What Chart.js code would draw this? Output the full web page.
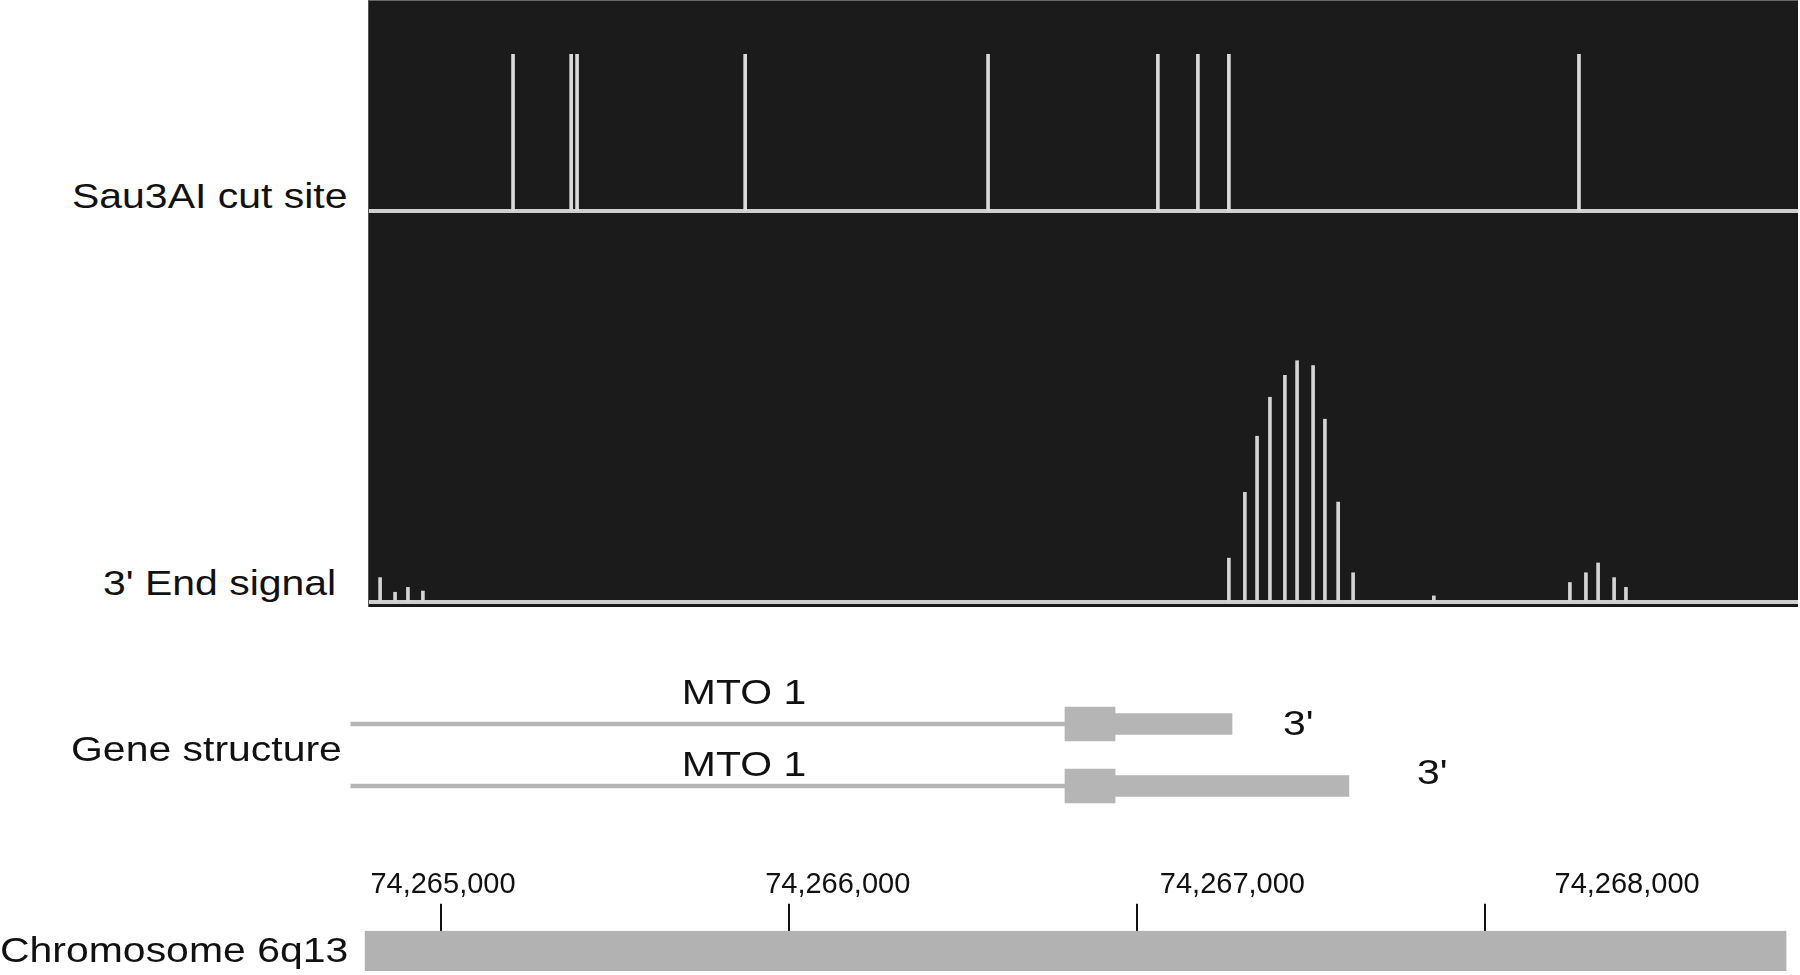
<!DOCTYPE html>
<html>
<head>
<meta charset="utf-8">
<script src="https://cdn.jsdelivr.net/npm/chart.js@4.4.1/dist/chart.umd.min.js"></script>
<style>
  html, body { margin: 0; padding: 0; background: #fff; }
  body { width: 1800px; height: 975px; position: relative; overflow: hidden; font-family: 'Liberation Sans', Arial, sans-serif; }
  .box { position: absolute; }
  .lbl { position: absolute; font-size: 35px; line-height: 1; color: #111; white-space: nowrap; transform-origin: 0 50%; transform: scaleX(1.17); }
  .mid { transform-origin: 50% 50%; transform: translateX(-50%) scaleX(1.17); }
  #panel { position: absolute; left: 368px; top: 0; width: 1430px; height: 607px; background: #1b1b1b; border-left: 1px solid #555; border-top: 1px solid #666; box-sizing: border-box; }
</style>
</head>
<body>

<div id="panel"></div>
<div class="box" style="left:369px;top:0;width:1429px;height:214px"><canvas id="sauChart"></canvas></div>
<div class="box" style="left:369px;top:212px;width:1429px;height:393px"><canvas id="signalChart"></canvas></div>
<div class="box" style="left:340px;top:693px;width:1460px;height:124px"><canvas id="geneChart"></canvas></div>
<div class="box" style="left:340px;top:867px;width:1460px;height:104px"><canvas id="chromChart"></canvas></div>

<div class="lbl" style="left:72px;top:178px">Sau3AI cut site</div>
<div class="lbl" style="left:103px;top:565px">3' End signal</div>
<div class="lbl" style="left:71px;top:731px">Gene structure</div>
<div class="lbl" style="left:0px;top:932px">Chromosome 6q13</div>
<div class="lbl mid" style="left:744px;top:674px">MTO 1</div>
<div class="lbl mid" style="left:744px;top:746px">MTO 1</div>
<div class="lbl" style="left:1283px;top:705px">3'</div>
<div class="lbl" style="left:1417px;top:754px">3'</div>

<script>
// genomic positions (bp) on chromosome 6q13
const sauSites = [74265207, 74265374, 74265391, 74265874, 74266572, 74267060, 74267175, 74267264, 74268270];

const signalPos = [74264825, 74264868, 74264905, 74264948,
  74267264, 74267310, 74267345, 74267382, 74267425, 74267460, 74267506, 74267540, 74267578, 74267621,
  74267853,
  74268244, 74268290, 74268325, 74268371, 74268405];
const signalVal = [10, 4, 6, 4.5,
  18, 45, 68, 84, 93, 99, 97, 75, 41, 12,
  2.5,
  8, 12, 16, 10, 6];

// two MTO1 transcripts
const geneRows = ['MTO 1 (short 3\')', 'MTO 1 (long 3\')'];
const intronStart = [74264741, 74264741];
const exonStart = [74266793, 74266793];
const utrStart = [74266937, 74266937];
const geneEnd = [74267273, 74267609];

const chromStart = 74264782;
const chromEnd = 74268865;
const chromTicks = [74265000, 74266000, 74267000, 74268000];

// page px <-> bp mapping shared by every track
const PX0 = 441, BP0 = 74265000, PX_PER_BP = 0.348;
const bpAt = px => BP0 + (px - PX0) / PX_PER_BP;
// tick labels in the figure drift right of their tick marks
const LAB_PX0 = 443, LAB_PX_PER_BP = 0.3947;
const labBpAt = px => BP0 + (px - LAB_PX0) / LAB_PX_PER_BP;

Chart.defaults.animation = false;
Chart.defaults.font.family = "'Liberation Sans', Arial, sans-serif";
Chart.defaults.plugins.legend.display = false;
Chart.defaults.plugins.tooltip.enabled = false;

const baseAxis = (min, max) => ({
  type: 'linear', min, max, offset: false,
  grid: { display: false, drawTicks: false, offset: false },
  ticks: { display: false },
  border: { display: true, color: '#cfcfcf', width: 4 }
});

// Sau3AI cut sites
new Chart(document.getElementById('sauChart'), {
  type: 'bar',
  data: {
    datasets: [{
      data: sauSites.map(x => ({ x, y: 1 })),
      backgroundColor: '#dadada',
      barThickness: 3
    }]
  },
  options: {
    responsive: true, maintainAspectRatio: false,
    layout: { padding: { top: 54, bottom: 3, left: 0, right: 0 } },
    scales: {
      x: baseAxis(bpAt(369), bpAt(1798)),
      y: { display: false, min: 0, max: 1 }
    }
  }
});

// 3' end signal
new Chart(document.getElementById('signalChart'), {
  type: 'bar',
  data: {
    datasets: [{
      data: signalPos.map((x, i) => ({ x, y: signalVal[i] })),
      backgroundColor: '#d4d4d4',
      barThickness: 3
    }]
  },
  options: {
    responsive: true, maintainAspectRatio: false,
    layout: { padding: { top: 0, bottom: 3, left: 0, right: 0 } },
    scales: {
      x: baseAxis(bpAt(369), bpAt(1798)),
      y: { display: false, min: 0, max: 160 }
    }
  }
});

// gene structure
const geneGray = '#b5b5b5';
new Chart(document.getElementById('geneChart'), {
  type: 'bar',
  data: {
    labels: geneRows,
    datasets: [
      { data: geneRows.map((_, i) => [intronStart[i], exonStart[i]]), backgroundColor: geneGray, barThickness: 4, grouped: false },
      { data: geneRows.map((_, i) => [exonStart[i], utrStart[i]]), backgroundColor: geneGray, barThickness: 34, grouped: false },
      { data: geneRows.map((_, i) => [utrStart[i], geneEnd[i]]), backgroundColor: geneGray, barThickness: 21, grouped: false }
    ]
  },
  options: {
    indexAxis: 'y',
    responsive: true, maintainAspectRatio: false,
    layout: { padding: 0 },
    scales: {
      x: { type: 'linear', display: false, min: bpAt(340), max: bpAt(1800) },
      y: { display: false }
    }
  }
});

// chromosome ideogram with coordinate ticks
new Chart(document.getElementById('chromChart'), {
  type: 'bar',
  data: {
    labels: ['6q13'],
    datasets: [{
      data: [[chromStart, chromEnd]],
      backgroundColor: '#b2b2b2',
      barPercentage: 1, categoryPercentage: 1
    }]
  },
  options: {
    indexAxis: 'y',
    responsive: true, maintainAspectRatio: false,
    layout: { padding: 0 },
    scales: {
      x: {
        type: 'linear', position: 'top', weight: 1,
        min: bpAt(340), max: bpAt(1800),
        afterBuildTicks: axis => { axis.ticks = chromTicks.map(value => ({ value })); },
        grid: { display: true, drawOnChartArea: false, drawTicks: true, tickLength: 27, color: '#111', lineWidth: 2 },
        ticks: { display: false },
        border: { display: false }
      },
      xLab: {
        type: 'linear', position: 'top', weight: 2, axis: 'x',
        min: labBpAt(340), max: labBpAt(1800),
        afterBuildTicks: axis => { axis.ticks = chromTicks.map(value => ({ value })); },
        grid: { display: false, drawTicks: false },
        border: { display: false },
        ticks: {
          padding: 1, color: '#111', maxRotation: 0, autoSkip: false,
          font: { size: 29 },
          callback: v => v.toLocaleString('en-US')
        }
      },
      y: { display: false }
    }
  }
});
</script>
</body>
</html>
